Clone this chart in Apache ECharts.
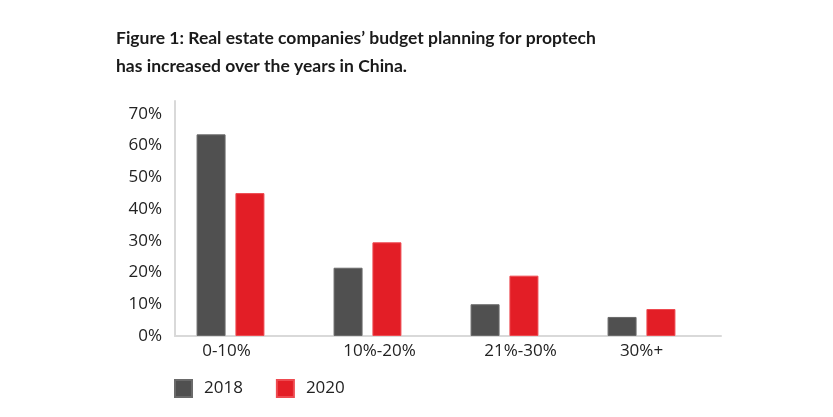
<!DOCTYPE html>
<html>
<head>
<meta charset="utf-8">
<script src="https://cdn.jsdelivr.net/npm/echarts@6/dist/echarts.min.js"></script>
<style>
  html, body { margin: 0; padding: 0; background: #fff; }
  #chart { width: 833px; height: 417px; }
</style>
</head>
<body>
<div id="chart"></div>
<script>
var categories = ['0-10%', '10%-20%', '21%-30%', '30%+'];
var years = ['2018', '2020'];
var budget2018 = [0.635, 0.215, 0.10, 0.06];
var budget2020 = [0.45, 0.295, 0.19, 0.085];
var yTicks = [0, 0.1, 0.2, 0.3, 0.4, 0.5, 0.6, 0.7];

var grey = '#505050',
    red = '#e31e26',
    axisGrey = '#d9d9d9',
    labelFont = 'Open Sans',
    labelSize = 17;

// small nudges so the category labels sit where the original put them
var labelShift = [
    [0, 8, 0, 0],
    [0, 0, 0, 24],
    [0, 0, 0, 32],
    [0, 0, 0, 0]
];
var rich = {};
labelShift.forEach(function(p, i) {
    rich['c' + i] = { padding: p, fontFamily: labelFont, fontSize: labelSize, color: '#222' };
});

var myChart = echarts.init(document.getElementById('chart'), null, { renderer: 'canvas' });

var option = {
    backgroundColor: '#fff',
    animation: false,
    title: {
        text: 'Figure 1: Real estate companies\u2019 budget planning for proptech\nhas increased over the years in China.',
        left: 111,
        top: 19,
        textStyle: {
            fontFamily: 'Lato',
            fontWeight: 'bold',
            fontSize: 17.5,
            lineHeight: 28,
            color: '#1a1a1a'
        }
    },
    legend: {
        data: years,
        left: 174,
        top: 379,
        padding: 0,
        itemWidth: 17,
        itemHeight: 17,
        itemGap: 33,
        icon: 'rect',
        textStyle: {
            fontFamily: labelFont,
            fontSize: labelSize,
            color: '#222',
            padding: [0, 0, 0, 7]
        }
    },
    grid: [
        // bars
        { left: 162, right: 833 - 710, top: 101, bottom: 417 - 336 },
        // visible axes
        { left: 175, right: 833 - 721, top: 101, bottom: 417 - 336 }
    ],
    xAxis: [
        {
            type: 'category',
            gridIndex: 0,
            data: categories,
            axisLine: { show: false },
            axisTick: { show: false },
            axisLabel: {
                margin: 7,
                formatter: function(v, i) { return '{c' + i + '|' + v + '}'; },
                rich: rich
            }
        },
        {
            type: 'category',
            gridIndex: 1,
            data: categories,
            axisLine: { show: true, lineStyle: { color: axisGrey, width: 2 } },
            axisTick: { show: false },
            axisLabel: { show: false }
        }
    ],
    yAxis: [
        {
            type: 'value',
            gridIndex: 0,
            min: 0,
            max: 0.74,
            interval: 0.1,
            show: false,
            splitLine: { show: false }
        },
        {
            type: 'value',
            gridIndex: 1,
            min: 0,
            max: 0.74,
            interval: 0.1,
            axisLine: { show: true, lineStyle: { color: axisGrey, width: 2 } },
            axisTick: { show: false },
            splitLine: { show: false },
            axisLabel: {
                margin: 13,
                fontFamily: labelFont,
                fontSize: labelSize,
                color: '#222',
                showMaxLabel: false,
                formatter: function(v) {
                    if (yTicks.indexOf(Math.round(v * 10) / 10) < 0 || v > 0.705) return '';
                    return Math.round(v * 100) + '%';
                }
            }
        }
    ],
    series: [
        {
            name: years[0],
            type: 'bar',
            xAxisIndex: 0,
            yAxisIndex: 0,
            data: budget2018,
            barWidth: 29,
            barGap: '34%',
            itemStyle: { color: grey, borderColor: '#6a6a6a', borderWidth: 1 }
        },
        {
            name: years[1],
            type: 'bar',
            xAxisIndex: 0,
            yAxisIndex: 0,
            data: budget2020,
            barWidth: 29,
            itemStyle: { color: red, borderColor: '#ee4a50', borderWidth: 1 }
        }
    ]
};
myChart.setOption(option);
</script>
</body>
</html>
